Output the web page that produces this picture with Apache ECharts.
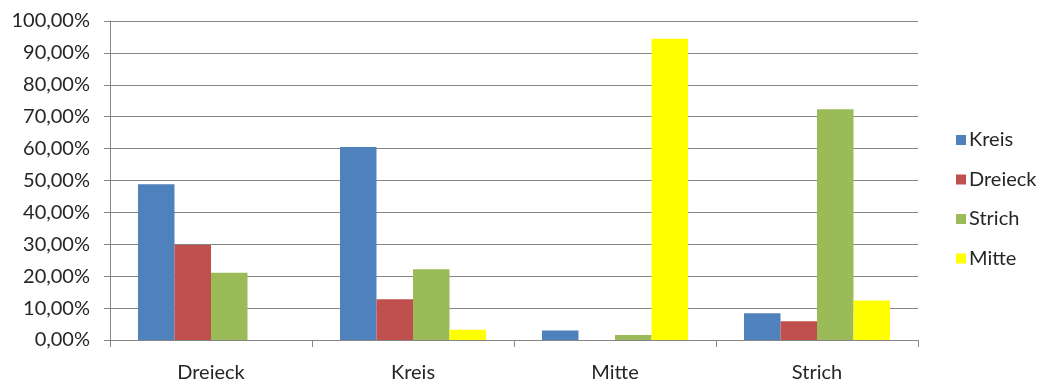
<!DOCTYPE html>
<html>
<head>
<meta charset="utf-8">
<script src="https://cdn.jsdelivr.net/npm/echarts@6/dist/echarts.min.js"></script>
<style>
  html, body { margin: 0; padding: 0; background: #fff; }
  #chart { width: 1043px; height: 383px; }
</style>
</head>
<body>
<div id="chart"></div>
<script>
// Categories on the x axis
const categories = ['Dreieck', 'Kreis', 'Mitte', 'Strich'];

// Series values in percent, one per category
const seriesNames = ['Kreis', 'Dreieck', 'Strich', 'Mitte'];
const kreis   = [48.8, 60.5, 3.0, 8.4];
const dreieck = [29.8, 12.8, 0.0, 5.9];
const strich  = [21.1, 22.2, 1.6, 72.3];
const mitte   = [0.0, 3.2, 94.4, 12.4];

const seriesColors = ['#4F81BD', '#C0504D', '#9BBB59', '#FFFF00'];
const seriesData = [kreis, dreieck, strich, mitte];

const fontFamily = 'Lato, "Open Sans", sans-serif';
const textColor = '#262626';
const fontSize = 20;

const chart = echarts.init(document.getElementById('chart'), null, { renderer: 'canvas' });

chart.setOption({
  animation: false,
  backgroundColor: '#ffffff',
  grid: { left: 110, right: 125, top: 21, bottom: 42, containLabel: false },
  legend: {
    orient: 'vertical',
    left: 951,
    top: 125,
    itemWidth: 10,
    itemHeight: 10,
    itemGap: 19.5,
    icon: 'rect',
    textStyle: { fontFamily, fontSize, color: textColor, padding: [0, 0, 0, -2] },
    data: seriesNames
  },
  xAxis: {
    type: 'category',
    data: categories,
    axisLine: { lineStyle: { color: '#868686', width: 1 } },
    axisTick: { show: true, length: 7, interval: 0, lineStyle: { color: '#868686' } },
    axisLabel: { fontFamily, fontSize, color: textColor, margin: 23 },
    splitLine: { show: false }
  },
  yAxis: {
    type: 'value',
    min: 0,
    max: 100,
    interval: 10,
    axisLine: { show: true, lineStyle: { color: '#868686', width: 1 } },
    axisTick: { show: true, length: 6, lineStyle: { color: '#868686' } },
    axisLabel: {
      fontFamily, fontSize, color: textColor, margin: 20,
      formatter: v => v.toFixed(2).replace('.', ',') + '%'
    },
    splitLine: { lineStyle: { color: '#868686', width: 1 } }
  },
  series: seriesNames.map((name, i) => ({
    name,
    type: 'bar',
    data: seriesData[i],
    barGap: '0%',
    barCategoryGap: '27.7%',
    itemStyle: { color: seriesColors[i] }
  }))
});
</script>
</body>
</html>
